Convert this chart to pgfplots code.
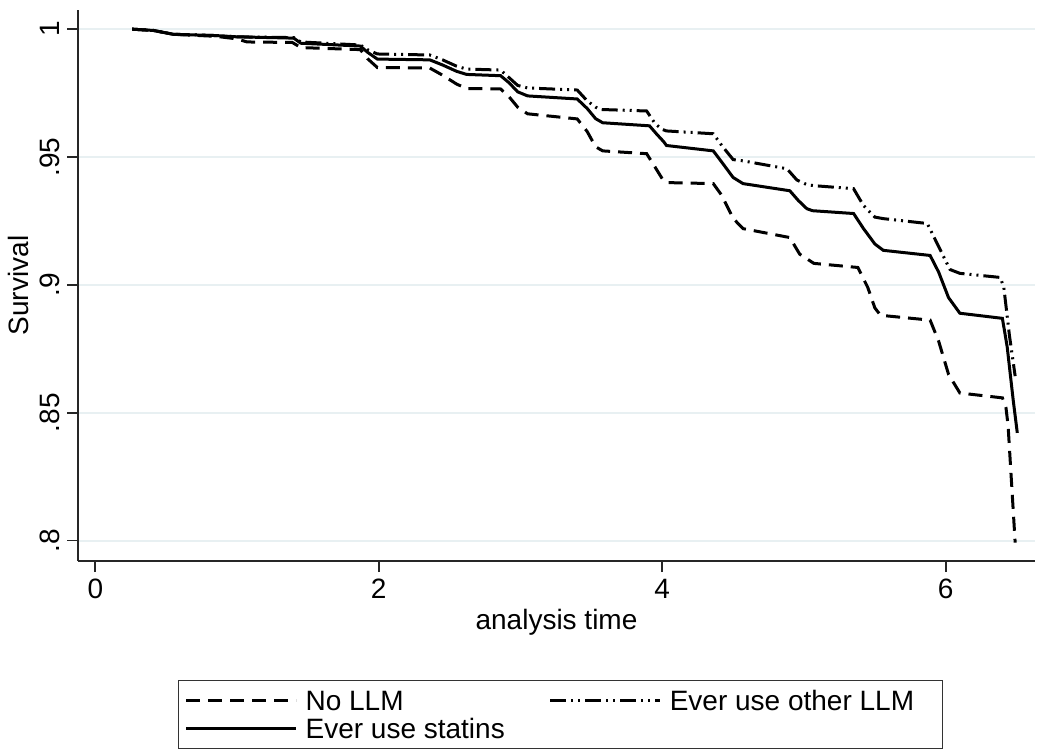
\documentclass[border=0pt]{standalone}
\usepackage{pgfplots}
\pgfplotsset{compat=1.18}
\usepackage{fontspec}
\setmainfont{Liberation Sans}
\definecolor{gridc}{RGB}{232,240,242}
\newcommand{\fs}{\fontsize{14}{16}\selectfont}
\begin{document}
\begin{tikzpicture}
\useasboundingbox (0,0) rectangle (525pt,375pt);
\begin{axis}[
  at={(39pt,94.5pt)}, anchor=south west,
  scale only axis, width=478.5pt, height=275.5pt,
  xmin=-0.122, xmax=6.63, ymin=0.792, ymax=1.0075,
  axis x line*=bottom, axis y line*=left,
  axis line style={line width=1pt, black!85},
  xtick={0,2,4,6},
  ytick={0.8,0.85,0.9,0.95,1},
  yticklabels={.8,.85,.9,.95,1},
  tick align=outside,
  major tick length=5.5pt,
  tick style={line width=0.8pt, black!85},
  ymajorgrids, grid style={line width=1pt, gridc},
  /pgf/number format/assume math mode=true,
  ticklabel style={font=\fs},
  yticklabel style={rotate=90, anchor=south},
  xlabel={analysis time}, ylabel={Survival},
  label style={font=\fs},
  xlabel style={yshift=1.5pt},
  ylabel style={yshift=-1pt},
  legend columns=2,
  legend cell align=left,
  legend style={at={(axis description cs:0.1045,-0.216)}, anchor=north west,
    font=\fs, draw=black!80, line width=0.6pt,
    inner xsep=3pt, inner ysep=3pt,
    nodes={text depth=0pt},
    /tikz/every even column/.append style={column sep=20pt},
    row sep=-0.5pt},
  legend image code/.code={\draw[#1] (0pt,0pt) -- (55pt,0pt); \path (57pt,0pt);},
]
\addplot[black, line width=1.5pt, dash pattern=on 7pt off 4pt] coordinates {
(0.26,1.0)(0.41,0.9995)(0.55,0.998)(0.85,0.9972)(1.0,0.9962)(1.07,0.995)(1.39,0.9948)
(1.45,0.9928)(1.87,0.9920)(1.92,0.9885)(1.99,0.9850)(2.36,0.9848)(2.45,0.9820)(2.55,0.9785)
(2.62,0.9768)(2.86,0.9766)(2.92,0.9735)(2.98,0.9695)(3.05,0.9669)(3.40,0.9649)(3.47,0.9600)
(3.53,0.9540)(3.58,0.9524)(3.89,0.9513)(3.95,0.9460)(4.00,0.9415)(4.03,0.9400)(4.36,0.9396)
(4.42,0.9350)(4.50,0.9260)(4.57,0.9220)(4.90,0.9185)(4.97,0.9120)(5.07,0.9084)(5.38,0.9068)
(5.45,0.8990)(5.50,0.8910)(5.54,0.8881)(5.89,0.8862)(5.95,0.8780)(6.02,0.8650)(6.10,0.8577)
(6.40,0.8558)(6.425,0.8520)(6.44,0.8450)(6.49,0.7992)};
\addlegendentry{No LLM}
\addplot[black, line width=1.5pt, dash pattern=on 8pt off 2.5pt on 1pt off 2.5pt on 1pt off 2.5pt] coordinates {
(0.26,1.0)(0.41,0.9995)(0.55,0.998)(0.85,0.9975)(1.0,0.997)(1.40,0.9967)(1.45,0.995)
(1.87,0.9938)(1.92,0.9920)(1.99,0.9903)(2.36,0.9899)(2.45,0.9880)(2.55,0.9855)(2.62,0.9844)
(2.86,0.9840)(2.92,0.9810)(2.98,0.9780)(3.05,0.9770)(3.40,0.9762)(3.47,0.9720)(3.53,0.9695)
(3.56,0.9686)(3.89,0.9680)(3.95,0.9630)(4.00,0.9608)(4.03,0.9602)(4.36,0.9591)(4.42,0.9545)
(4.50,0.9490)(4.57,0.9485)(4.88,0.9454)(4.95,0.9410)(5.02,0.9392)(5.07,0.9388)(5.35,0.9376)
(5.42,0.9310)(5.50,0.9265)(5.56,0.9259)(5.87,0.9240)(5.95,0.9150)(6.03,0.9060)(6.10,0.9045)
(6.385,0.9029)(6.41,0.8990)(6.45,0.8800)(6.49,0.8643)};
\addlegendentry{Ever use other LLM\hspace*{9pt}}
\addplot[black, line width=1.5pt] coordinates {
(0.26,1.0)(0.41,0.9995)(0.55,0.998)(0.85,0.9975)(1.0,0.997)(1.40,0.9965)(1.45,0.9945)
(1.87,0.9934)(1.92,0.9910)(1.99,0.9883)(2.36,0.9880)(2.45,0.9860)(2.55,0.9835)(2.62,0.9823)
(2.86,0.9818)(2.92,0.9790)(2.98,0.9755)(3.05,0.9739)(3.40,0.9727)(3.47,0.9690)(3.53,0.9650)
(3.58,0.9634)(3.91,0.9622)(3.96,0.9590)(4.01,0.9560)(4.03,0.9545)(4.36,0.9524)(4.42,0.9480)
(4.50,0.9420)(4.57,0.9396)(4.90,0.9368)(4.96,0.9330)(5.02,0.9298)(5.06,0.9290)(5.35,0.9279)
(5.42,0.9220)(5.50,0.9160)(5.56,0.9135)(5.89,0.9115)(5.95,0.9050)(6.02,0.8950)(6.10,0.8889)
(6.40,0.8869)(6.434,0.8756)(6.476,0.8550)(6.505,0.8421)};
\addlegendentry{Ever use statins}
\end{axis}
\end{tikzpicture}
\end{document}
